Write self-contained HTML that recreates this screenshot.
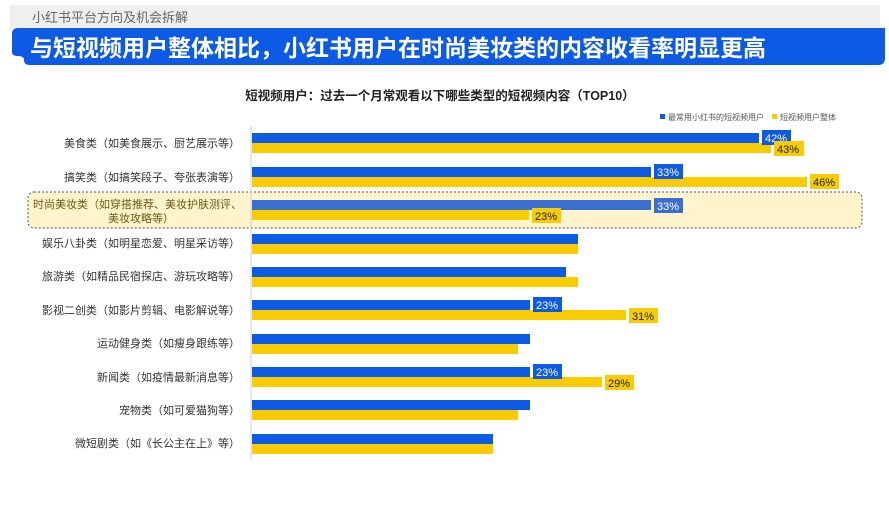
<!DOCTYPE html>
<html><head><meta charset="utf-8"><style>
body{margin:0;width:889px;height:500px;background:#fff;overflow:hidden;font-family:"Liberation Sans","Noto Sans CJK SC",sans-serif}
</style></head><body>
<svg width="889" height="500" xmlns="http://www.w3.org/2000/svg" font-family="Liberation Sans, Noto Sans CJK SC, sans-serif">
<rect x="10" y="5" width="870" height="25" fill="#efefef"/>
<text x="32" y="22" font-size="13" fill="#666">小红书平台方向及机会拆解</text>
<path d="M18,28 H885 V58 Q885,65 878,65 H30 Q24,65 24,60 Q24,56 18,56 Q12,56 12,52 V34 Q12,28 18,28 Z" fill="#0d5ae5"/>
<text x="30" y="56" font-size="23" font-weight="bold" fill="#fff">与短视频用户整体相比，小红书用户在时尚美妆类的内容收看率明显更高</text>
<text x="440" y="100" font-size="12.5" font-weight="bold" fill="#222" text-anchor="middle">短视频用户：过去一个月常观看以下哪些类型的短视频内容（TOP10）</text>
<rect x="660" y="114" width="5" height="5" fill="#0d5ae5"/>
<text x="668" y="120" font-size="8" fill="#555">最常用小红书的短视频用户</text>
<rect x="772" y="114" width="5" height="5" fill="#f8cc00"/>
<text x="780" y="120" font-size="8" fill="#555">短视频用户整体</text>
<rect x="28" y="192" width="834" height="36" rx="6" fill="#fff4cc" stroke="#555" stroke-dasharray="2,2"/>
<line x1="251" y1="126" x2="251" y2="460" stroke="#ccc"/>
<g font-size="11" fill="#333" text-anchor="end">
<text x="240" y="147">美食类（如美食展示、厨艺展示等）</text>
<text x="240" y="181">搞笑类（如搞笑段子、夸张表演等）</text>
<text x="240" y="208" fill="#7a6200" text-anchor="start" x2="0"></text>
<text x="240" y="247">娱乐八卦类（如明星恋爱、明星采访等）</text>
<text x="240" y="280">旅游类（如精品民宿探店、游玩攻略等）</text>
<text x="240" y="314">影视二创类（如影片剪辑、电影解说等）</text>
<text x="240" y="347">运动健身类（如瘦身跟练等）</text>
<text x="240" y="381">新闻类（如疫情最新消息等）</text>
<text x="240" y="414">宠物类（如可爱猫狗等）</text>
<text x="240" y="447">微短剧类（如《长公主在上》等）</text>
</g>
<text x="33" y="208" font-size="11" fill="#6b5a10">时尚美妆类（如穿搭推荐、美妆护肤测评、</text>
<text x="141" y="222" font-size="11" fill="#6b5a10" text-anchor="middle">美妆攻略等）</text>
<g>
<rect x="252" y="133" width="507" height="10" fill="#0d5ae5"/><rect x="252" y="143" width="519" height="10" fill="#f8cc00"/>
<rect x="252" y="167" width="399" height="10" fill="#0d5ae5"/><rect x="252" y="177" width="555" height="10" fill="#f8cc00"/>
<rect x="252" y="200" width="399" height="10" fill="#3a6ed0"/><rect x="252" y="210" width="277" height="10" fill="#f8cc00"/>
<rect x="252" y="234" width="326" height="10" fill="#0d5ae5"/><rect x="252" y="244" width="326" height="10" fill="#f8cc00"/>
<rect x="252" y="267" width="314" height="10" fill="#0d5ae5"/><rect x="252" y="277" width="326" height="10" fill="#f8cc00"/>
<rect x="252" y="300" width="278" height="10" fill="#0d5ae5"/><rect x="252" y="310" width="374" height="10" fill="#f8cc00"/>
<rect x="252" y="334" width="278" height="10" fill="#0d5ae5"/><rect x="252" y="344" width="266" height="10" fill="#f8cc00"/>
<rect x="252" y="367" width="278" height="10" fill="#0d5ae5"/><rect x="252" y="377" width="350" height="10" fill="#f8cc00"/>
<rect x="252" y="400" width="278" height="10" fill="#0d5ae5"/><rect x="252" y="410" width="266" height="10" fill="#f8cc00"/>
<rect x="252" y="434" width="241" height="10" fill="#0d5ae5"/><rect x="252" y="444" width="241" height="10" fill="#f8cc00"/>
</g>
<g font-size="11">
<rect x="762" y="130" width="29" height="15" fill="#0d5ae5"/><text x="765" y="142" fill="#fff">42%</text>
<rect x="774" y="141" width="30" height="15" fill="#f8cc00"/><text x="777" y="153" fill="#222">43%</text>
<rect x="654" y="164" width="29" height="15" fill="#0d5ae5"/><text x="657" y="176" fill="#fff">33%</text>
<rect x="810" y="174" width="29" height="15" fill="#f8cc00"/><text x="813" y="186" fill="#222">46%</text>
<rect x="654" y="198" width="29" height="15" fill="#3a6ed0"/><text x="657" y="210" fill="#fff">33%</text>
<rect x="532" y="208" width="29" height="15" fill="#f8cc00"/><text x="535" y="220" fill="#222">23%</text>
<rect x="533" y="297" width="29" height="15" fill="#0d5ae5"/><text x="536" y="309" fill="#fff">23%</text>
<rect x="629" y="308" width="29" height="15" fill="#f8cc00"/><text x="632" y="320" fill="#222">31%</text>
<rect x="533" y="364" width="29" height="15" fill="#0d5ae5"/><text x="536" y="376" fill="#fff">23%</text>
<rect x="605" y="375" width="29" height="15" fill="#f8cc00"/><text x="608" y="387" fill="#222">29%</text>
</g>
</svg>
</body></html>
